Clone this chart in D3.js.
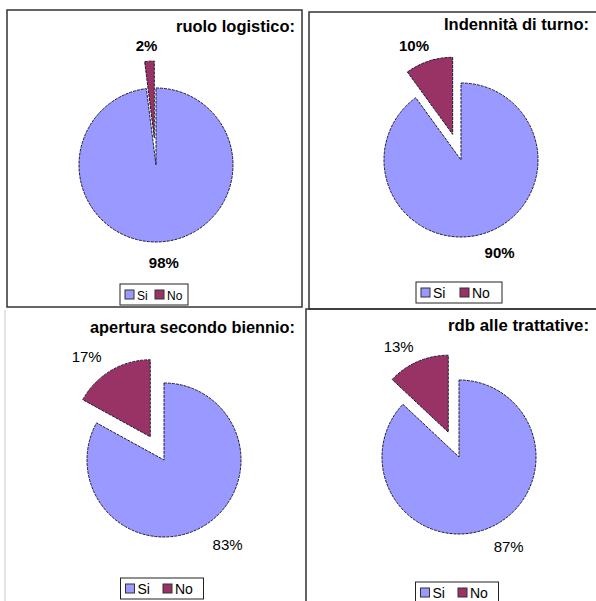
<!DOCTYPE html>
<html>
<head>
<meta charset="utf-8">
<script src="https://cdn.jsdelivr.net/npm/d3@7"></script>
<style>
  body { margin: 0; background: #fff; }
  text { font-family: "Liberation Sans", Arial, sans-serif; fill: #000; }
</style>
</head>
<body>
<svg id="chart" width="596" height="601"></svg>
<script>
// data
var categories = ["Si", "No"];
var titles = ["ruolo logistico:", "Indennità di turno:", "apertura secondo biennio:", "rdb alle trattative:"];
var siValues = [98, 90, 83, 87];
var noValues = [2, 10, 17, 13];

var colors = d3.scaleOrdinal().domain(categories).range(["#9999ff", "#993366"]);

// layout of the four panels
var panels = [
    {cx: 156, cy: 165, titleX: 295, titleY: 32, titleW: 119, labelWeight: "bold", legY: 284, legW: 68, legFont: 12, box: [7, 10, 295, 297]},
    {cx: 461, cy: 160, titleX: 589, titleY: 30, titleW: 145, labelWeight: "bold", legY: 282, legW: 86, legFont: 14, box: [309, 12, 300, 297]},
    {cx: 164, cy: 460, titleX: 295, titleY: 333, titleW: 205, labelWeight: "normal", legY: 578, legW: 83, legFont: 14, box: null},
    {cx: 459, cy: 457, titleX: 589, titleY: 331, titleW: 141, labelWeight: "normal", legY: 582, legW: 83, legFont: 14, box: [306, 309, 300, 300]}
];

var radius = 77, explode = 27;
var svg = d3.select("#chart");

var pie = d3.pie().sort(null).value(function(d){ return d.value; });
var arc = d3.arc().innerRadius(0).outerRadius(radius);

// faint left edge of the borderless lower-left panel
svg.append("line")
    .attr("x1", 5).attr("x2", 5).attr("y1", 310).attr("y2", 601)
    .attr("stroke", "#e4e4e4").attr("stroke-width", 2);

panels.forEach(function(p, i){
    var g = svg.append("g");
    if(p.box){
        g.append("rect")
            .attr("x", p.box[0]).attr("y", p.box[1])
            .attr("width", p.box[2]).attr("height", p.box[3])
            .attr("fill", "none")
            .attr("stroke", "#333")
            .attr("stroke-width", 1.5);
    }

    g.append("text")
        .attr("x", p.titleX).attr("y", p.titleY)
        .attr("text-anchor", "end")
        .attr("textLength", p.titleW)
        .attr("lengthAdjust", "spacingAndGlyphs")
        .style("font-size", "17px")
        .style("font-weight", "bold")
        .text(titles[i]);

    var data = [
        {name: categories[0], value: siValues[i]},
        {name: categories[1], value: noValues[i]}
    ];
    var arcs = pie(data);

    var pg = g.append("g").attr("transform", "translate(" + p.cx + "," + p.cy + ")");

    //slices, the "No" one pulled out
    pg.selectAll("path")
        .data(arcs)
        .enter()
        .append("path")
        .attr("transform", function(d){
            if(d.data.name != "No") return null;
            var a = (d.startAngle + d.endAngle) / 2;
            return "translate(" + (Math.sin(a) * explode) + "," + (-Math.cos(a) * explode) + ")";
        })
        .attr("d", arc)
        .attr("fill", function(d){ return colors(d.data.name); })
        .attr("stroke", "#1a1a33")
        .attr("stroke-width", 1)
        .attr("stroke-dasharray", "3,1");

    pg.selectAll("text")
        .data(arcs)
        .enter()
        .append("text")
        .attr("x", function(d){
            var a = (d.startAngle + d.endAngle) / 2;
            var r = d.data.name == "No" ? 152 : 125;
            return Math.sin(a) * r;
        })
        .attr("y", function(d){
            var a = (d.startAngle + d.endAngle) / 2;
            var r = d.data.name == "No" ? 120 : 98;
            return -Math.cos(a) * r;
        })
        .attr("text-anchor", "middle")
        .attr("dy", "0.35em")
        .style("font-size", "15px")
        .style("font-weight", p.labelWeight)
        .text(function(d){ return d.data.value + "%"; });

    // legend
    var lx = p.cx - p.legW / 2 - 2;
    var lg = g.append("g").attr("transform", "translate(" + lx + "," + p.legY + ")");
    lg.append("rect")
        .attr("width", p.legW).attr("height", 21)
        .attr("fill", "#fff")
        .attr("stroke", "#222")
        .attr("stroke-width", 1);
    var step = p.legW / 2 - 4;
    categories.forEach(function(c, k){
        var it = lg.append("g").attr("transform", "translate(" + (5 + k * step) + ",0)");
        it.append("rect")
            .attr("x", 0).attr("y", 6)
            .attr("width", 9).attr("height", 9)
            .attr("fill", colors(c))
            .attr("stroke", "#333")
            .attr("stroke-width", 1);
        it.append("text")
            .attr("x", 12).attr("y", 15.5)
            .style("font-size", p.legFont + "px")
            .text(c);
    });
});
</script>
</body>
</html>
